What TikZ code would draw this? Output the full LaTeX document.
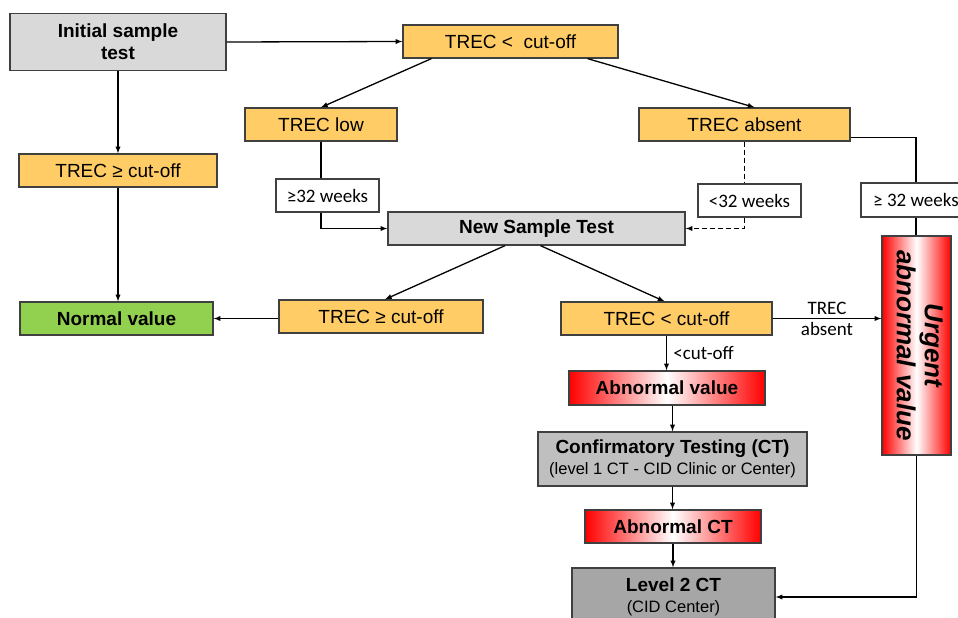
\documentclass[tikz,border=0pt]{standalone}
\usepackage{fontspec}
\usepackage{graphicx}
\setmainfont{Liberation Sans}
\newfontfamily\labfont{Carlito}
\definecolor{trecorange}{HTML}{FFCC66}
\definecolor{lightgray}{HTML}{D9D9D9}
\definecolor{midgray}{HTML}{BFBFBF}
\definecolor{darkgray}{HTML}{A6A6A6}
\definecolor{normalgreen}{HTML}{92D050}
\tikzset{
  box/.style={rectangle, draw=black!75, line width=1.3pt, inner sep=0pt, align=center, font=\fontsize{19}{22}\selectfont},
  wh/.style 2 args={minimum width=#1pt, minimum height=#2pt},
  graybox/.style={box, fill=lightgray, font=\fontsize{19}{22}\selectfont\bfseries},
  trecbox/.style={box, fill=trecorange},
  redbox/.style={box, left color=red, right color=red, middle color=white, font=\fontsize{19}{22}\selectfont\bfseries},
  weekbox/.style={box, fill=white, font=\fontsize{19}{22}\labfont},
  lab/.style={font=\fontsize{19}{22}\labfont},
  line/.style={line width=1.3pt},
  conn/.style={line, -latex},
  dashline/.style={dash pattern=on 5pt off 3pt},
}
\begin{document}
\begin{tikzpicture}[x=1pt, y=-1pt]
\useasboundingbox (0,0) rectangle (958,618);
\clip (0,0) rectangle (958,618);
\node[graybox, wh={216}{57}] (IST) at (118,42) {Initial sample\\test};
\node[trecbox, wh={215}{33}] (TC) at (510.5,41.5) {TREC <~ cut-off};
\node[trecbox, wh={152}{33}] (TL) at (321,124.5) {TREC low};
\node[trecbox, wh={211}{33}] (TA) at (744.5,124.5) {TREC absent};
\node[trecbox, wh={198}{33}] (TG) at (118,170.5) {TREC ≥ cut-off};
\node[weekbox, wh={103}{33}] (W1) at (327.5,195.5) {≥32 weeks};
\node[weekbox, wh={103}{33}] (W2) at (749.5,200.5) {<32 weeks};
\node[weekbox, wh={110}{34}] (W3) at (916,200) {≥ 32 weeks};
\node[graybox, wh={297}{33}] (NST) at (536.5,228.5) {New Sample Test};
\node[graybox, wh={193}{33}, fill=normalgreen] (NV) at (116.5,318.5) {Normal value};
\node[trecbox, wh={204}{33}] (TG2) at (381,316.5) {TREC ≥ cut-off};
\node[trecbox, wh={211}{33}] (TC2) at (666.5,318.5) {TREC < cut-off};
\node[redbox, wh={69}{219}, font=\fontsize{26}{28}\selectfont\bfseries\itshape] (UAV) at (916.5,345.5)
  {\rotatebox{-90}{\begin{tabular}{@{}c@{}}Urgent\\abnormal value\end{tabular}}};
\node[redbox, wh={196}{34}] (AV) at (667,388) {Abnormal value};
\node[graybox, wh={269}{54}, fill=midgray] (CT) at (672.5,459)
  {Confirmatory Testing (CT)\\[-1pt]{\fontsize{16.5}{19}\selectfont\mdseries (level 1 CT - CID Clinic or Center)}};
\node[redbox, wh={176}{33}] (ACT) at (673,526.5) {Abnormal CT};
\node[graybox, wh={203}{58}, fill=darkgray] (L2) at (673.5,597)
  {Level 2 CT\\[-1pt]{\fontsize{16.5}{19}\selectfont\mdseries (CID Center)}};
% initial test
    \draw[conn] (IST.east) -- (TC.west);
    \draw[conn] (IST.south) -- (TG.north);
    \draw[conn] (TG.south) -- (TG.south |- NV.north);
    \draw[conn] ([xshift=29pt]TC.south west) -- (TL.north);
    \draw[conn] ([xshift=-31pt]TC.south east) -- ([xshift=10pt]TA.north);
% weeks
    \draw[line] (TL.south) -- (TL.south |- W1.north);
    \draw[conn] (TL.south |- W1.south) -- (TL.south |- NST.west) -- (NST.west);
    \draw[line, dashline] (TA.south) -- (TA.south |- W2.north);
    \draw[conn, dashline] (TA.south |- W2.south) -- (TA.south |- NST.east) -- (NST.east);
    \draw[line] ([yshift=4pt]TA.south east) -| (W3.north);
    \draw[line] (W3.south) -- (W3.south |- UAV.north);
% new sample test
    \draw[conn] ([xshift=-31.5pt]NST.south) -- ([xshift=4pt]TG2.north);
    \draw[conn] ([xshift=4pt]NST.south) -- ([xshift=-2pt]TC2.north);
    \draw[conn] (TG2.west |- NV.east) -- (NV.east);
    \draw[conn] (TC2.east) -- (TC2.east -| UAV.west)
      node[midway, above, lab] {TREC} node[midway, below, lab] {absent};
    \draw[conn] (TC2.south) -- (TC2.south |- AV.north)
      node[midway, right, lab, xshift=3pt] {<cut-off};
    \draw[conn] (CT.north |- AV.south) -- (CT.north);
    \draw[conn] (CT.south) -- (CT.south |- ACT.north);
    \draw[conn] (ACT.south) -- (ACT.south |- L2.north);
    \draw[conn] (UAV.south) |- (L2.east);
\end{tikzpicture}
\end{document}
